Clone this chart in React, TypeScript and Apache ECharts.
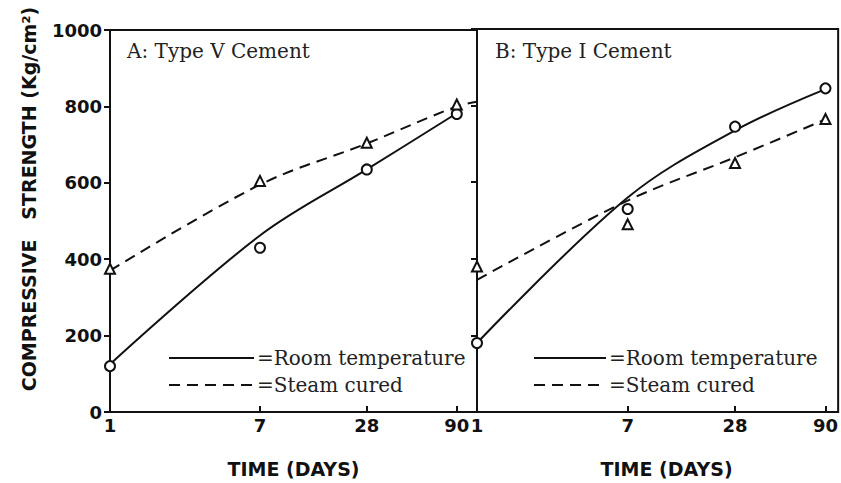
import React, { useEffect, useRef } from "react";
import * as echarts from "echarts";

const days = [1, 7, 28, 90];
const yTicks = [0, 200, 400, 600, 800, 1000];

// Panel A: Type V cement
const aRoomPoints = [120, 430, 635, 780];
const aSteamPoints = [375, 605, 705, 805];
const aRoomCurveX = [1, 7, 28, 90];
const aRoomCurve = [125, 462, 635, 782];
const aSteamCurveX = [1, 7, 28, 90, 117];
const aSteamCurve = [370, 595, 703, 800, 812];

// Panel B: Type I cement
const bRoomPoints = [180, 530, 745, 845];
const bSteamPoints = [380, 490, 650, 765];
const bRoomCurveX = [1, 7, 28, 90];
const bRoomCurve = [180, 560, 735, 843];
const bSteamCurveX = [1, 7, 28, 90];
const bSteamCurve = [345, 552, 665, 764];

const pair = (xs: number[], ys: number[]) => xs.map((x, i) => [x, ys[i]]);

export default function App() {
  const ref = useRef<HTMLDivElement>(null);
  useEffect(() => {
    if (!ref.current) return;
    const chart = echarts.init(ref.current, null, { renderer: "svg" });
    const black = "#111";
    const tickFont = { fontFamily: "DejaVu Sans", fontWeight: "bold" as const, fontSize: 18, color: black };
    const mkX = (idx: number, max: number, pad: number) => ({
      type: "log" as const,
      gridIndex: idx,
      min: 1,
      max,
      logBase: 10,
      axisLine: { lineStyle: { color: black, width: 2 } },
      axisTick: { inside: true, length: 6, lineStyle: { color: black, width: 2 }, customValues: days },
      axisLabel: { ...tickFont, margin: 4, customValues: days, formatter: (v: number) => String(Math.round(v)) },
      minorTick: { show: false },
      splitLine: { show: false },
      name: "TIME (DAYS)",
      nameLocation: "middle" as const,
      nameGap: 47,
      nameTextStyle: { fontFamily: "DejaVu Sans", fontWeight: "bold" as const, fontSize: 19, color: black, padding: [0, 0, 0, pad] },
    });
    const mkY = (idx: number, showLabels: boolean) => ({
      type: "value" as const,
      gridIndex: idx,
      min: yTicks[0],
      max: yTicks[yTicks.length - 1],
      interval: 200,
      axisLine: { show: true, lineStyle: { color: black, width: 2 } },
      axisTick: { show: true, inside: false, length: 6, lineStyle: { color: black, width: 2 } },
      axisLabel: { show: showLabels, ...tickFont, margin: 8, formatter: (v: number) => String(v) },
      splitLine: { show: false },
      ...(showLabels
        ? {
            name: "COMPRESSIVE   STRENGTH (Kg/cm²)",
            nameLocation: "middle" as const,
            nameRotate: 90,
            nameGap: 72,
            nameTextStyle: { fontFamily: "DejaVu Sans", fontWeight: "bold" as const, fontSize: 19, color: black, padding: [0, 0, 0, 44] },
          }
        : {}),
    });
    const curve = (name: string, xi: number, data: number[][], dashed: boolean) => ({
      type: "line" as const,
      name,
      xAxisIndex: xi,
      yAxisIndex: xi,
      data,
      smooth: 0.35,
      symbol: "none",
      lineStyle: { color: black, width: 2, type: dashed ? ([11, 7] as any) : "solid" },
      itemStyle: { color: black },
      z: 2,
    });
    const marks = (name: string, xi: number, ys: number[], symbol: string) => ({
      type: "scatter" as const,
      name,
      xAxisIndex: xi,
      yAxisIndex: xi,
      data: pair(days, ys),
      symbol,
      symbolSize: 10,
      itemStyle: { color: black, borderColor: black, borderWidth: 1.8, opacity: 1 },
      z: 3,
    });
    const legendBase = {
      orient: "vertical" as const,
      itemHeight: 20,
      itemGap: 7,
      data: ["Room temperature", "Steam cured"],
      formatter: (n: string) => "=" + n,
      textStyle: { fontFamily: "DejaVu Serif", fontSize: 20, color: "#222", padding: [0, 0, 0, -2] },
      itemStyle: { opacity: 0 },
      lineStyle: { width: 2 },
      selectedMode: false,
    };
    chart.setOption({
      animation: false,
      backgroundColor: "#fff",
      title: [
        { text: "A: Type V Cement", left: 122, top: 36, textStyle: { fontFamily: "DejaVu Serif", fontWeight: "normal", fontSize: 20, color: "#222" } },
        { text: "B: Type I Cement", left: 490, top: 36, textStyle: { fontFamily: "DejaVu Serif", fontWeight: "normal", fontSize: 20, color: "#222" } },
      ],
      grid: [
        { left: 110, top: 30, width: 367, height: 382, show: true, borderColor: black, borderWidth: 2, backgroundColor: "transparent" },
        { left: 477, top: 29, width: 362, height: 383, show: true, borderColor: black, borderWidth: 2, backgroundColor: "transparent" },
      ],
      xAxis: [mkX(0, 117, 0), mkX(1, 106, 18)],
      yAxis: [mkY(0, true), mkY(1, false)],
      legend: [
        { ...legendBase, left: 163, top: 343, itemWidth: 85 },
        { ...legendBase, left: 528, top: 343, itemWidth: 72 },
      ],
      series: [
        curve("Room temperature", 0, pair(aRoomCurveX, aRoomCurve), false),
        curve("Steam cured", 0, pair(aSteamCurveX, aSteamCurve), true),
        marks("A room points", 0, aRoomPoints, "emptyCircle"),
        marks("A steam points", 0, aSteamPoints, "emptyTriangle"),
        curve("Room temperature", 1, pair(bRoomCurveX, bRoomCurve), false),
        curve("Steam cured", 1, pair(bSteamCurveX, bSteamCurve), true),
        marks("B room points", 1, bRoomPoints, "emptyCircle"),
        marks("B steam points", 1, bSteamPoints, "emptyTriangle"),
      ],
    });
    return () => chart.dispose();
  }, []);
  return <div ref={ref} style={{ position: "absolute", left: 0, top: 0, width: 841, height: 483 }} />;
}
